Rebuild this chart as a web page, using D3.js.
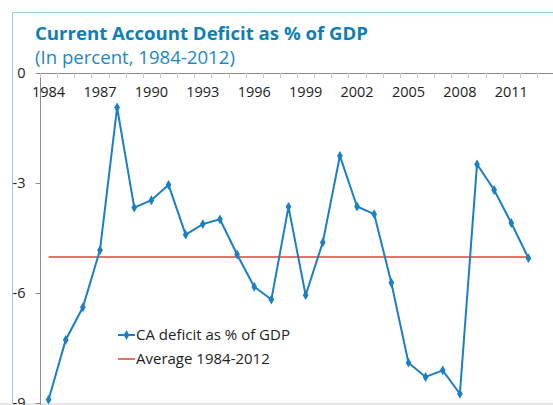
<!DOCTYPE html>
<html>
  <head>
    <meta charset="utf-8">
    <title>Current Account Deficit as % of GDP</title>
    <script src="https://cdn.jsdelivr.net/npm/d3@7"></script>
    <style>
      body { margin: 0; background: #fff; }
      text { font-family: "Open Sans", "Noto Sans", sans-serif; }
    </style>
  </head>
  <body>
    <svg width="553" height="405"></svg>
    <script>
      // data
      var years = d3.range(1984, 2013);
      var caDeficit = [-8.91, -7.28, -6.39, -4.83, -0.94, -3.67, -3.47, -3.05, -4.41, -4.12,
                       -3.99, -4.95, -5.83, -6.18, -3.65, -6.06, -4.62, -2.26, -3.64, -3.85,
                       -5.72, -7.90, -8.29, -8.11, -8.75, -2.49, -3.19, -4.09, -5.05];
      var average = years.map(function() { return -5.02; });
      var yTicks = [0, -3, -6, -9];
      var xLabels = [1984, 1987, 1990, 1993, 1996, 1999, 2002, 2005, 2008, 2011];

      var svg = d3.select("svg");

      // outer frame
      svg.append("path")
        .attr("d", "M12.5,405 V12.5 H553")
        .attr("fill", "none")
        .attr("stroke", "#9cc8e6")
        .attr("stroke-width", 1);
      svg.append("rect")
        .attr("x", 0).attr("y", 403).attr("width", 553).attr("height", 2)
        .attr("fill", "#e6e6e6");

      // titles
      svg.append("text")
        .attr("x", 35).attr("y", 40)
        .attr("fill", "#0d7fb6")
        .style("font-size", "18.6px")
        .style("font-weight", "bold")
        .text("Current Account Deficit as % of GDP");
      svg.append("text")
        .attr("x", 35).attr("y", 64)
        .attr("fill", "#1a8ac2")
        .style("font-size", "18.6px")
        .text("(In percent, 1984-2012)");

      // scales
      var x = d3.scaleBand().domain(years).range([40, 537]);
      var y = d3.scaleLinear().domain([-9, 0]).range([403, 73]);
      var cx = function(d) { return x(d) + x.bandwidth() / 2; };

      // y axis
      var yAxis = svg.append("g")
        .attr("transform", "translate(40.5,0)")
        .call(d3.axisLeft(y).tickValues(yTicks).tickSize(5).tickPadding(10)
          .tickFormat(function(d) { return String(d); }));
      yAxis.select(".domain").attr("stroke", "#8c8c8c").attr("d", "M0,73V405");
      yAxis.selectAll(".tick line").attr("stroke", "#8c8c8c");
      yAxis.selectAll("text").style("font-size", "14.5px").attr("fill", "#222");

      // x axis at top (value 0), labels under the line
      var xAxis = svg.append("g")
        .attr("transform", "translate(0," + (y(0) + 0.5) + ")")
        .call(d3.axisBottom(x).tickValues(xLabels).tickSize(0).tickPadding(13));
      xAxis.select(".domain").attr("stroke", "#8c8c8c").attr("d", "M40,0H553");
      xAxis.selectAll("text").style("font-size", "14.5px").attr("fill", "#222");

      // tick marks between categories
      var bounds = years.map(function(d) { return x(d); }).concat([x.range()[1]]);
      svg.append("g").selectAll("line")
        .data(bounds)
        .enter().append("line")
        .attr("x1", function(d) { return Math.round(d) + 0.5; })
        .attr("x2", function(d) { return Math.round(d) + 0.5; })
        .attr("y1", y(0))
        .attr("y2", y(0) + 5)
        .attr("stroke", "#c8c8c8");

      // average line
      svg.append("path")
        .datum(average)
        .attr("fill", "none")
        .attr("stroke", "#e0403c")
        .attr("stroke-width", 1.5)
        .attr("d", d3.line().x(function(d, i) { return cx(years[i]); }).y(function(d) { return y(d); }));

      // CA deficit line
      svg.append("path")
        .datum(caDeficit)
        .attr("fill", "none")
        .attr("stroke", "#1b7fc4")
        .attr("stroke-width", 2)
        .attr("d", d3.line().x(function(d, i) { return cx(years[i]); }).y(function(d) { return y(d); }));

      var diamond = d3.symbol().type(d3.symbolDiamond).size(28);
      svg.append("g").selectAll("path")
        .data(caDeficit)
        .enter().append("path")
        .attr("d", diamond)
        .attr("fill", "#1b7fc4")
        .attr("transform", function(d, i) { return "translate(" + cx(years[i]) + "," + y(d) + ")"; });

      // legend
      var legend = svg.append("g");
      legend.append("line")
        .attr("x1", 118).attr("x2", 135).attr("y1", 335).attr("y2", 335)
        .attr("stroke", "#1b7fc4").attr("stroke-width", 2);
      legend.append("path")
        .attr("d", diamond)
        .attr("fill", "#1b7fc4")
        .attr("transform", "translate(126.5,335)");
      legend.append("text")
        .attr("x", 136).attr("y", 340)
        .attr("fill", "#222")
        .style("font-size", "15px")
        .text("CA deficit as % of GDP");
      legend.append("line")
        .attr("x1", 118).attr("x2", 135).attr("y1", 359).attr("y2", 359)
        .attr("stroke", "#e0403c").attr("stroke-width", 1.5);
      legend.append("text")
        .attr("x", 136).attr("y", 364)
        .attr("fill", "#222")
        .style("font-size", "15px")
        .text("Average 1984-2012");
    </script>
  </body>
</html>
